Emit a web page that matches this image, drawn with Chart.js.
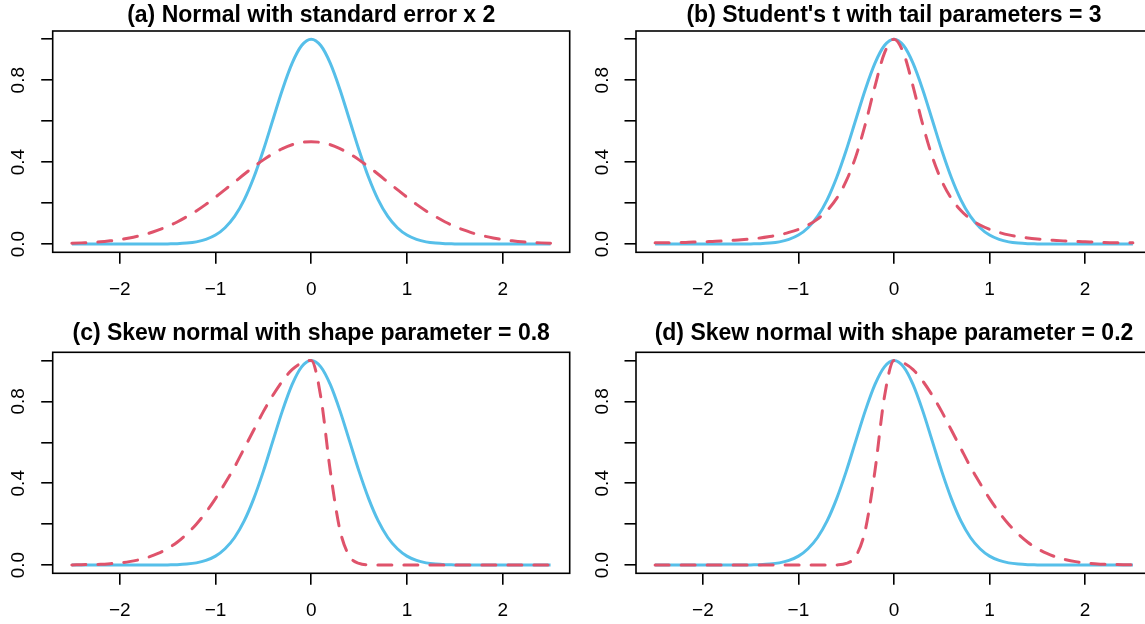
<!DOCTYPE html>
<html><head><meta charset="utf-8">
<script src="https://cdn.jsdelivr.net/npm/chart.js@4"></script>
<style>
html,body{margin:0;padding:0;background:#fff;}
#wrap{position:relative;width:1145px;height:624px;overflow:hidden;background:#fff;}
canvas{position:absolute;}
</style></head><body><div id="wrap">
<canvas id="pa"></canvas><canvas id="pb"></canvas><canvas id="pc"></canvas><canvas id="pd"></canvas>
</div>
<script>
// ---- data ----
const xValues = [-2.5,-2.4,-2.3,-2.2,-2.1,-2.0,-1.9,-1.8,-1.7,-1.6,-1.5,-1.4,-1.3,-1.2,-1.1,-1.0,-0.9,-0.8,-0.7,-0.6,-0.5,-0.4,-0.3,-0.2,-0.1,0,
  0.1,0.2,0.3,0.4,0.5,0.6,0.7,0.8,0.9,1.0,1.1,1.2,1.3,1.4,1.5,1.6,1.7,1.8,1.9,2.0,2.1,2.2,2.3,2.4,2.5];
const xTicks = [-2,-1,0,1,2];
const xTickLabels = ['\u22122','\u22121','0','1','2'];
const yTicks = [0,0.2,0.4,0.6,0.8,1.0];
const yTickLabels = ['0.0','','0.4','','0.8',''];
const titles = ['(a) Normal with standard error x 2',"(b) Student's t with tail parameters = 3",
  '(c) Skew normal with shape parameter = 0.8','(d) Skew normal with shape parameter = 0.2'];

// solid blue reference curve (same in every panel)
const referenceNormal = [0,0,0,0,0,0,0,0,0,0,0.001,0.002,0.005,0.011,0.023,0.044,0.080,0.135,0.216,0.325,0.458,0.607,0.755,0.882,0.969,1,
  0.969,0.882,0.755,0.607,0.458,0.325,0.216,0.135,0.080,0.044,0.023,0.011,0.005,0.002,0.001,0,0,0,0,0,0,0,0,0,0];
// dashed red curves
const normalSE2 = [0.004,0.006,0.008,0.011,0.016,0.022,0.030,0.040,0.052,0.068,0.086,0.108,0.134,0.162,0.194,0.229,0.266,0.303,0.341,0.377,0.411,0.441,0.466,0.485,0.496,0.5,
  0.496,0.485,0.466,0.441,0.411,0.377,0.341,0.303,0.266,0.229,0.194,0.162,0.134,0.108,0.086,0.068,0.052,0.040,0.030,0.022,0.016,0.011,0.008,0.006,0.004];
const studentT3 = [0.006,0.007,0.007,0.008,0.010,0.011,0.013,0.015,0.018,0.021,0.025,0.030,0.037,0.045,0.057,0.072,0.093,0.122,0.164,0.223,0.308,0.427,0.585,0.769,0.932,1,
  0.932,0.769,0.585,0.427,0.308,0.223,0.164,0.122,0.093,0.072,0.057,0.045,0.037,0.030,0.025,0.021,0.018,0.015,0.013,0.011,0.010,0.008,0.007,0.007,0.006];
const skewShape08 = [0.001,0.002,0.003,0.004,0.007,0.011,0.017,0.026,0.039,0.057,0.081,0.112,0.152,0.200,0.258,0.325,0.400,0.480,0.570,0.660,0.750,0.830,0.900,0.955,0.988,1,
  0.823,0.458,0.172,0.044,0.008,0.001,0,0,0,0,0,0,0,0,0,0,0,0,0,0,0,0,0,0,0];
const skewShape02 = [0,0,0,0,0,0,0,0,0,0,0,0,0,0,0,0,0,0,0,0.001,0.008,0.044,0.172,0.458,0.823,1,
  0.988,0.955,0.900,0.830,0.750,0.660,0.570,0.480,0.400,0.325,0.258,0.200,0.152,0.112,0.081,0.057,0.039,0.026,0.017,0.011,0.007,0.004,0.003,0.002,0.001];

// ---- styling ----
const BLUE = '#56BFE9';
const RED = '#DF536B';
const FONT = '"Liberation Sans", Arial, Helvetica, sans-serif';

const framePlugin = {
  id: 'frame',
  afterDatasetsDraw(chart) {
    const {ctx, chartArea: a} = chart;
    ctx.save();
    ctx.strokeStyle = '#000';
    ctx.lineWidth = 1.6;
    ctx.strokeRect(a.left, a.top, a.right - a.left, a.bottom - a.top);
    ctx.restore();
  }
};

function panel(id, left, top, W, H, area, title, redSeries) {
  const cv = document.getElementById(id);
  cv.width = W; cv.height = H;
  cv.style.left = left + 'px'; cv.style.top = top + 'px';
  cv.style.width = W + 'px'; cv.style.height = H + 'px';
  const titleLine = 27.6;
  new Chart(cv, {
    type: 'line',
    data: {
      datasets: [
        { data: xValues.map((x, i) => ({x, y: redSeries[i]})), borderColor: RED, borderWidth: 3,
          borderDash: [14, 12], borderCapStyle: 'round', pointRadius: 0, cubicInterpolationMode: 'monotone', fill: false },
        { data: xValues.map((x, i) => ({x, y: referenceNormal[i]})), borderColor: BLUE, borderWidth: 3,
          pointRadius: 0, cubicInterpolationMode: 'monotone', fill: false }
      ]
    },
    options: {
      responsive: false, animation: false, devicePixelRatio: 1,
      layout: { padding: { left: 0, top: 0, right: W - area.r, bottom: 0 } },
      plugins: {
        legend: { display: false }, tooltip: { enabled: false },
        title: { display: true, text: title, fullSize: false, color: '#000',
          font: { family: FONT, size: 23, weight: 'bold', lineHeight: 1.2 },
          padding: { top: area.tp, bottom: area.t - titleLine - area.tp } }
      },
      scales: {
        x: {
          type: 'linear', position: 'bottom', min: -2.7, max: 2.7,
          afterBuildTicks: s => { s.ticks = xTicks.map(v => ({value: v})); },
          afterFit: s => { s.height = H - area.b; },
          ticks: { autoSkip: false, minRotation: 0, maxRotation: 0, padding: 15, color: '#000',
            font: { family: FONT, size: 19 }, callback: (v, i) => xTickLabels[i] },
          grid: { drawOnChartArea: false, drawTicks: true, tickLength: 11.5, color: '#000', lineWidth: 1.6 },
          border: { display: false }
        },
        y: {
          type: 'linear', position: 'left', min: -0.04, max: 1.04,
          afterBuildTicks: s => { s.ticks = yTicks.map(v => ({value: v})); },
          afterFit: s => { s.width = area.l; },
          ticks: { autoSkip: false, minRotation: 90, maxRotation: 90, crossAlign: 'center', padding: 9, color: '#000',
            font: { family: FONT, size: 19 }, callback: (v, i) => yTickLabels[i] },
          grid: { drawOnChartArea: false, drawTicks: true, tickLength: 11.5, color: '#000', lineWidth: 1.6 },
          border: { display: false }
        }
      }
    },
    plugins: [framePlugin]
  });
}

panel('pa', 0, 0, 573, 312, {l: 52.7, r: 569.7, t: 31, b: 252.3, tp: 1.5}, titles[0], normalSE2);
panel('pb', 573, 0, 582, 312, {l: 63, r: 579, t: 31, b: 252.3, tp: 1.5}, titles[1], studentT3);
panel('pc', 0, 312, 573, 312, {l: 52.7, r: 569.7, t: 40.3, b: 261.3, tp: 7.5}, titles[2], skewShape08);
panel('pd', 573, 312, 582, 312, {l: 63, r: 579, t: 40.3, b: 261.3, tp: 7.5}, titles[3], skewShape02);
</script>
</body></html>
